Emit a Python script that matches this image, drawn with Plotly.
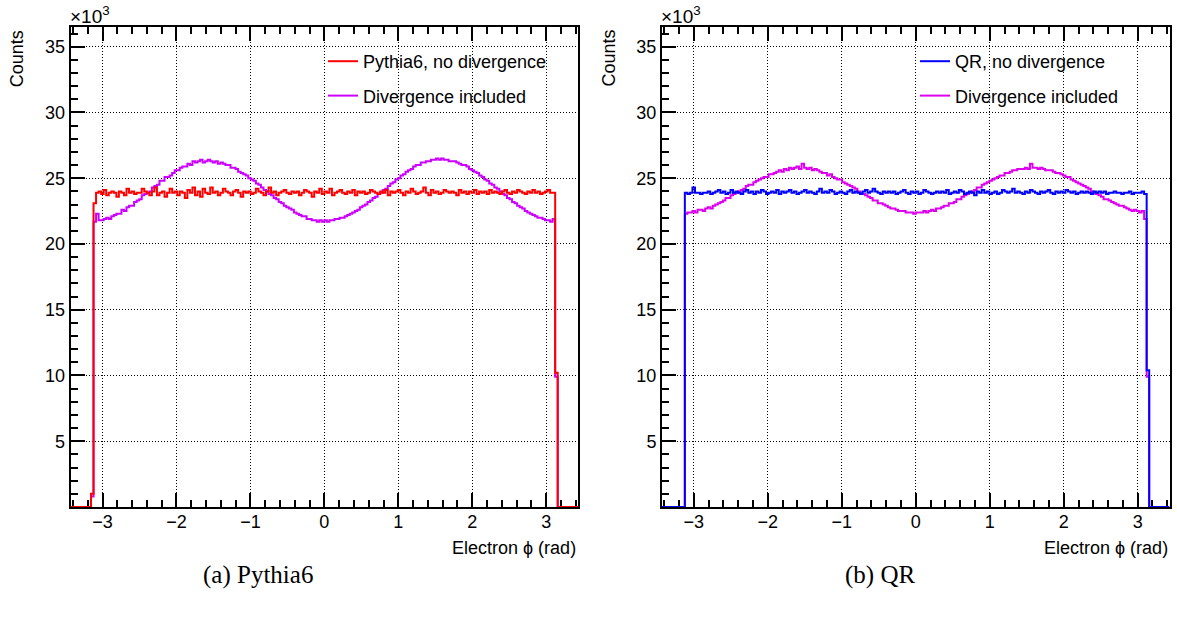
import numpy as np
import plotly.graph_objects as go

# ---------------- data (counts in units of 10^3) ----------------
x_lo, x_hi, n_bins = -3.43, 3.43, 200
first_bin = 8  # index of the first non-empty bin

pythia_nodiv = [1.0, 23.1,
    23.9, 24.0, 23.8, 24.1, 23.7, 23.9, 24.0, 23.9, 23.6, 24.0, 23.9, 23.7, 24.2, 23.9, 24.0, 23.8, 23.9, 23.9, 24.2, 24.0,
    23.9, 23.7, 24.0, 24.3, 23.7, 23.9, 24.0, 23.6, 23.9, 24.2, 23.9, 24.0, 23.7, 24.0, 23.9, 23.5, 24.1, 23.9, 24.3, 23.7,
    24.0, 23.6, 24.2, 23.9, 23.8, 24.3, 23.9, 24.0, 23.7, 23.9, 24.2, 24.0, 23.9, 23.7, 24.0, 24.1, 23.9, 23.6, 24.0, 23.9,
    24.0, 23.8, 23.9, 24.2, 24.0, 23.9, 23.7, 24.0, 24.3, 23.9, 24.0, 23.7, 23.9, 24.0, 24.1, 23.9, 23.8, 24.0, 23.9, 24.0,
    23.7, 23.9, 24.1, 24.0, 23.9, 23.6, 24.0, 23.9, 24.2, 23.8, 24.0, 23.9, 24.2, 23.7, 23.9, 24.0, 24.1, 23.9, 23.8, 24.0,
    23.9, 24.1, 23.7, 24.0, 23.9, 24.0, 23.8, 23.9, 24.1, 24.0, 23.9, 23.8, 24.0, 23.9, 24.1, 23.7, 24.0, 23.9, 24.0, 24.1,
    23.9, 23.7, 24.0, 23.9, 24.2, 24.0, 23.8, 23.9, 24.0, 24.3, 23.9, 23.7, 24.1, 23.9, 24.0, 23.8, 23.9, 24.1, 24.0, 23.9,
    24.0, 23.9, 23.7, 24.1, 23.9, 24.0, 23.8, 24.0, 23.9, 24.1, 23.8, 24.0, 23.9, 24.0, 23.8, 24.1, 23.9, 24.0, 23.9, 23.8,
    24.0, 24.1, 23.9, 23.8, 24.0, 23.9, 24.1, 24.0, 23.9, 23.8, 24.0, 23.9, 24.1, 23.9, 24.0, 23.8, 23.9, 24.0, 24.1, 23.9, 23.9,
    10.2]

pythia_div = [0.8, 21.7,
    22.3, 21.8, 21.8, 21.9, 22.0, 21.9, 22.1, 22.2, 22.3, 22.3, 22.6, 22.5, 22.8, 22.9, 22.9, 23.2, 23.3, 23.4, 23.7, 23.8,
    23.9, 24.0, 24.3, 24.4, 24.5, 24.8, 24.8, 25.1, 25.1, 25.2, 25.4, 25.6, 25.6, 25.8, 25.9, 25.9, 26.1, 26.0, 26.3, 26.2,
    26.3, 26.4, 26.2, 26.3, 26.4, 26.3, 26.2, 26.3, 26.1, 26.2, 26.1, 26.0, 26.0, 25.8, 25.8, 25.7, 25.5, 25.4, 25.3, 25.2,
    25.0, 24.9, 24.8, 24.6, 24.5, 24.3, 24.1, 24.0, 23.8, 23.7, 23.5, 23.4, 23.2, 23.1, 22.9, 22.8, 22.7, 22.6, 22.4, 22.3,
    22.2, 22.1, 22.1, 21.9, 21.9, 21.8, 21.8, 21.7, 21.8, 21.7, 21.8, 21.7,
    21.8, 21.8, 21.9, 21.9, 22.0, 22.0, 22.1, 22.2, 22.3, 22.4, 22.5, 22.6, 22.8, 22.9, 23.0, 23.2, 23.3, 23.5, 23.6, 23.8,
    23.9, 24.1, 24.2, 24.4, 24.6, 24.7, 24.9, 25.0, 25.2, 25.3, 25.5, 25.6, 25.7, 25.9, 26.0, 26.0, 26.2, 26.2, 26.3, 26.3,
    26.4, 26.4, 26.5, 26.4, 26.5, 26.4, 26.4, 26.3, 26.3, 26.3, 26.2, 26.1, 26.0, 26.0, 25.9, 25.7, 25.6, 25.5, 25.4, 25.2,
    25.1, 24.9, 24.8, 24.6, 24.5, 24.3, 24.2, 24.0, 23.8, 23.7, 23.5, 23.4, 23.2, 23.1, 22.9, 22.8, 22.7, 22.5, 22.4, 22.3,
    22.2, 22.1, 22.0, 22.0, 21.9, 21.8, 21.8, 21.7, 21.9,
    9.9]

qr_nodiv = [0.0, 23.9,
    23.8, 23.9, 24.3, 23.9, 23.9, 23.8, 23.9, 23.9, 24.0, 23.8, 23.9, 24.0, 24.1, 23.9, 24.0, 23.8, 23.9, 24.1, 23.9, 24.0,
    23.9, 23.8, 24.0, 24.1, 23.9, 24.0, 23.8, 24.0, 23.9, 24.1, 24.0, 23.8, 23.9, 24.0, 23.9, 24.1, 23.8, 24.0, 23.9, 24.0,
    24.1, 23.9, 24.0, 23.8, 23.9, 24.0, 24.1, 23.9, 24.0, 23.9, 23.8, 24.0, 24.2, 23.9, 24.0, 23.9, 24.1, 24.0, 23.8, 23.9,
    24.0, 23.9, 23.8, 24.0, 24.1, 23.9, 24.0, 23.9, 23.8, 24.0, 24.1, 23.9, 24.0, 24.2, 24.0, 23.9, 23.8, 24.0, 23.9, 24.0,
    23.9, 24.0, 23.8, 23.9, 24.0, 24.1, 23.9, 23.8, 24.0, 23.9, 24.0, 23.8, 23.9, 24.1, 24.0, 23.9, 23.8, 23.9, 24.0, 23.9,
    24.0, 23.9, 24.1, 23.8, 23.9, 24.0, 23.9, 24.1, 24.0, 23.8, 23.9, 24.0, 23.9, 23.7, 24.0, 23.9, 24.1, 23.9, 24.0, 23.8,
    23.9, 24.0, 23.8, 23.9, 24.1, 24.0, 23.9, 24.0, 24.2, 23.9, 24.0, 23.9, 23.8, 24.0, 23.9, 24.1, 24.0, 23.9, 23.8, 24.0,
    23.9, 24.0, 24.1, 23.9, 23.8, 24.0, 23.9, 24.0, 23.9, 24.1, 24.0, 23.9, 24.0, 23.8, 23.9, 24.0, 23.9, 24.0, 23.9, 23.8,
    24.0, 23.9, 24.0, 23.9, 24.0, 23.8, 23.9, 23.9, 24.0, 23.9, 23.9, 23.8, 23.9, 23.9, 24.0, 23.8, 23.9, 23.9, 23.9, 24.0, 23.8,
    10.4]

qr_div = [0.0, 22.3,
    22.4, 22.4, 22.5, 22.4, 22.6, 22.6, 22.5, 22.7, 22.8, 22.7, 22.9, 23.0, 23.1, 23.2, 23.3, 23.5, 23.5, 23.7, 23.8, 23.9,
    24.0, 24.1, 24.2, 24.4, 24.5, 24.5, 24.7, 24.8, 24.9, 25.0, 25.1, 25.1, 25.3, 25.3, 25.4, 25.5, 25.6, 25.5, 25.7, 25.6,
    25.8, 25.7, 25.8, 25.9, 25.7, 26.1, 25.8, 25.7, 25.8, 25.6, 25.7, 25.6, 25.5, 25.4, 25.4, 25.2, 25.3, 25.1, 25.0, 24.9,
    24.9, 24.7, 24.6, 24.5, 24.4, 24.3, 24.2, 24.0, 23.9, 23.8, 23.7, 23.6, 23.5, 23.3, 23.3, 23.1, 23.1, 23.0, 22.9, 22.8,
    22.7, 22.7, 22.6, 22.5, 22.5, 22.5, 22.4, 22.4, 22.4, 22.3, 22.4, 22.4,
    22.4, 22.5, 22.4, 22.5, 22.6, 22.5, 22.7, 22.7, 22.8, 22.9, 22.9, 23.1, 23.1, 23.2, 23.4, 23.4, 23.6, 23.7, 23.8, 23.9,
    24.0, 24.1, 24.3, 24.3, 24.5, 24.6, 24.7, 24.8, 24.9, 25.0, 25.1, 25.2, 25.2, 25.4, 25.4, 25.5, 25.6, 25.6, 25.7, 25.7,
    25.7, 25.8, 25.7, 26.1, 25.8, 25.8, 25.7, 25.8, 25.7, 25.6, 25.6, 25.6, 25.5, 25.4, 25.4, 25.3, 25.2, 25.1, 25.1, 24.9,
    24.8, 24.7, 24.6, 24.5, 24.4, 24.3, 24.2, 24.0, 23.9, 23.8, 23.7, 23.6, 23.4, 23.4, 23.3, 23.2, 23.1, 23.0, 22.9, 22.9,
    22.8, 22.7, 22.6, 22.5, 22.6, 22.5, 22.4, 22.5, 21.9,
    9.9]

x_ticks = [-3, -2, -1, 0, 1, 2, 3]
y_ticks = [5, 10, 15, 20, 25, 30, 35]

# ---------------- helpers ----------------
edges = np.linspace(x_lo, x_hi, n_bins + 1)


def hist_steps(vals):
    full = np.zeros(n_bins)
    full[first_bin:first_bin + len(vals)] = vals
    return edges, np.append(full, full[-1])


SANS = "Liberation Sans, Arial, Helvetica, sans-serif"
SERIF = "Liberation Serif, Times New Roman, serif"

fig = go.Figure()

series = [
    ("Divergence included", pythia_div, "#cc00ff", "x", "y", "legend", 2),
    ("Pythia6, no divergence", pythia_nodiv, "#ff0000", "x", "y", "legend", 1),
    ("Divergence included", qr_div, "#dd00ee", "x2", "y2", "legend2", 2),
    ("QR, no divergence", qr_nodiv, "#0000ff", "x2", "y2", "legend2", 1),
]
for name, vals, col, xa, ya, lg, rank in series:
    xs, ys = hist_steps(vals)
    fig.add_trace(go.Scatter(
        x=xs, y=ys, mode="lines", name=name,
        line=dict(shape="hv", color=col, width=2),
        xaxis=xa, yaxis=ya, legend=lg, legendrank=rank,
        legendgroup=name + lg, hoverinfo="skip"))

W, H = 1177, 617
left_dom = [70.7 / W, 578 / W]
right_dom = [662 / W, 1169.5 / W]
y_dom = [1 - 507 / H, 1 - 27 / H]

TICKFONT = dict(family=SANS, size=18, color="black")

xcommon = dict(
    range=[x_lo, x_hi], tickvals=x_ticks, ticks="inside", ticklen=14, tickwidth=2,
    tickcolor="black", showline=True, linecolor="black", linewidth=2, mirror="ticks",
    showgrid=True, gridcolor="#000000", gridwidth=1, griddash="1px,2px",
    zeroline=False, tickfont=TICKFONT, ticklabelstandoff=-3,
    minor=dict(dtick=0.2, tick0=0, ticks="inside", ticklen=7, tickwidth=1.5,
               tickcolor="black", showgrid=False),
    layer="below traces", fixedrange=True,
)
ycommon = dict(
    range=[0, 36.5], tickvals=y_ticks, ticks="inside", ticklen=14, tickwidth=2,
    tickcolor="black", showline=True, linecolor="black", linewidth=2, mirror=True,
    showgrid=True, gridcolor="#000000", gridwidth=1, griddash="1px,2px",
    zeroline=False, tickfont=TICKFONT,
    minor=dict(dtick=1, tick0=0, ticks="inside", ticklen=7, tickwidth=1.5,
               tickcolor="black", showgrid=False),
    layer="below traces", fixedrange=True,
)

legcommon = dict(bgcolor="rgba(0,0,0,0)", borderwidth=0, itemwidth=30,
                 font=dict(family=SANS, size=18, color="black"),
                 xanchor="left", yanchor="top", tracegroupgap=8,
                 traceorder="grouped")

fig.update_layout(
    width=W, height=H, margin=dict(l=0, r=0, t=0, b=0),
    paper_bgcolor="white", plot_bgcolor="white",
    xaxis=dict(domain=left_dom, anchor="y", **xcommon),
    yaxis=dict(domain=y_dom, anchor="x", **ycommon),
    xaxis2=dict(domain=right_dom, anchor="y2", **xcommon),
    yaxis2=dict(domain=y_dom, anchor="x2", **ycommon),
    legend=dict(x=323 / W, y=1 - 43 / H, **legcommon),
    legend2=dict(x=915 / W, y=1 - 43 / H, **legcommon),
    showlegend=True,
)

ann = []
for x0, x1 in ((70.7, 578), (662, 1169.5)):
    ann.append(dict(text="Counts", textangle=-90, x=(x0 - 53) / W, y=1 - 28 / H,
                    xref="paper", yref="paper", xanchor="center", yanchor="top",
                    showarrow=False, font=dict(family=SANS, size=18, color="black")))
    ann.append(dict(text="×10<sup>3</sup>", x=(x0 - 3) / W, y=1 - 29 / H,
                    xref="paper", yref="paper", xanchor="left", yanchor="bottom",
                    showarrow=False, font=dict(family=SANS, size=19, color="black")))
    ann.append(dict(text="Electron ϕ (rad)", x=x1 / W, y=1 - 548 / H,
                    xref="paper", yref="paper", xanchor="right", yanchor="middle",
                    showarrow=False, font=dict(family=SANS, size=18, color="black")))
ann.append(dict(text="(a) Pythia6", x=258 / W, y=1 - 575 / H, xref="paper", yref="paper",
                xanchor="center", yanchor="middle", showarrow=False,
                font=dict(family=SERIF, size=25, color="black")))
ann.append(dict(text="(b) QR", x=880 / W, y=1 - 575 / H, xref="paper", yref="paper",
                xanchor="center", yanchor="middle", showarrow=False,
                font=dict(family=SERIF, size=25, color="black")))
fig.update_layout(annotations=ann)

fig.write_html("out.html")
